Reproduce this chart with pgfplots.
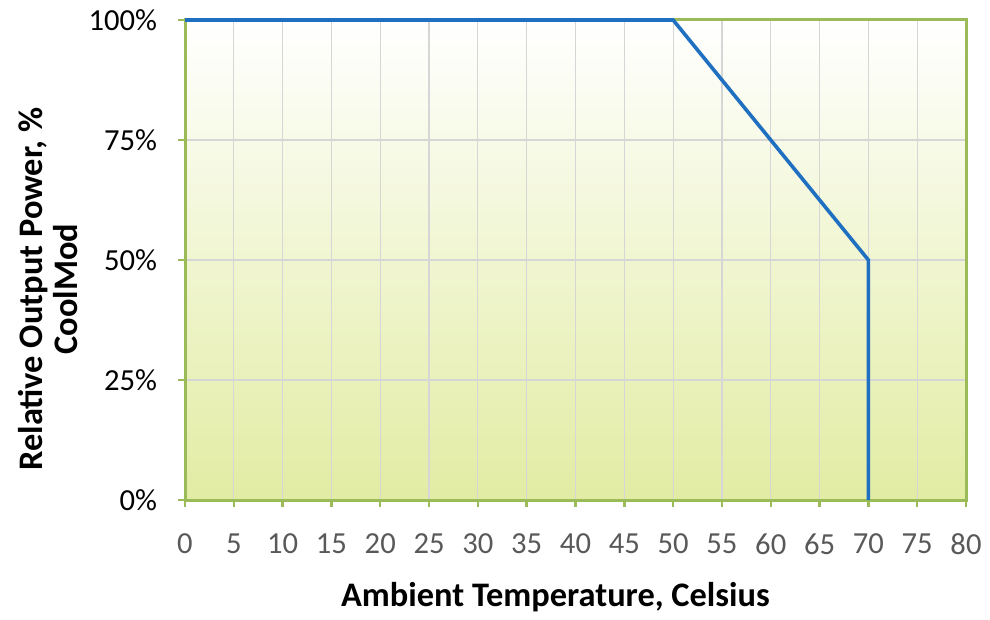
\documentclass[border=0pt]{standalone}
\usepackage{pgfplots}
\pgfplotsset{compat=1.18}
\usepackage{fontspec}
\setmainfont{Carlito}
\definecolor{axgreen}{HTML}{9BBB59}
\definecolor{bgbot}{HTML}{E2ECA3}
\definecolor{lineblue}{HTML}{1F70C1}
\definecolor{ticklab}{HTML}{595959}
\begin{document}
\begin{tikzpicture}
\begin{axis}[
  name=ax,
  scale only axis,
  width=390.5pt, height=240pt,
  xmin=0, xmax=80, ymin=0, ymax=100,
  xtick={0,5,...,80},
  ytick={0,25,50,75,100},
  yticklabels={0\%,25\%,50\%,75\%,100\%},
  /pgf/number format/assume math mode=true,
  tick pos=left,
  tick label style={font=\fontsize{15.3}{17}\selectfont},
  xticklabel style={text=ticklab, anchor=center, yshift=-18.5pt},
  yticklabel style={text=black, xshift=-7pt},
  tick align=outside,
  major tick length=3.5pt,
  tick style={axgreen, line width=1.2pt},
  axis line style={axgreen, line width=1.5pt},
  grid=major,
  major grid style={draw=black!16, line width=0.6pt},
  axis background/.style={top color=white, bottom color=bgbot},
  xlabel={\textbf{Ambient Temperature, Celsius}},
  ylabel={\textbf{Relative Output Power, \%}\\\textbf{CoolMod}},
  every axis x label/.style={at={(axis description cs:0.5,0)}, anchor=center, yshift=-48.5pt, xshift=-10pt, font=\fontsize{17.2}{20}\selectfont},
  every axis y label/.style={at={(axis description cs:0,0.5)}, anchor=center, rotate=90, yshift=68.5pt, xshift=-14.5pt, align=center, font=\fontsize{17.2}{17.5}\selectfont},
  clip=false,
]
\addplot[lineblue, line width=1.8pt] coordinates {(0,100) (50,100) (70,50) (70,0)};
\end{axis}
\pgfresetboundingbox
\path ([xshift=-92.5pt,yshift=-59.5pt]ax.south west) rectangle ([xshift=12pt,yshift=10pt]ax.north east);
\end{tikzpicture}
\end{document}
